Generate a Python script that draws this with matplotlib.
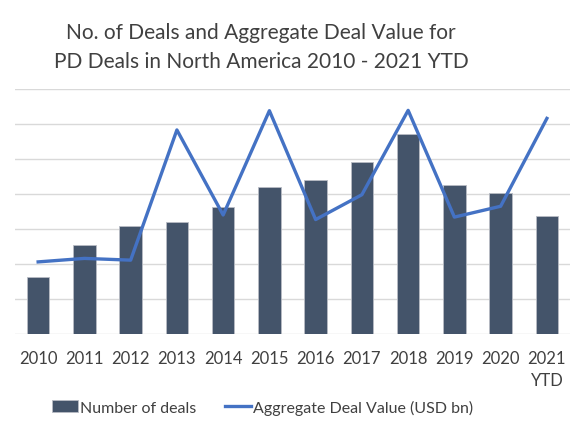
import matplotlib.pyplot as plt
import numpy as np

years = ['2010', '2011', '2012', '2013', '2014', '2015', '2016', '2017',
         '2018', '2019', '2020', '2021\nYTD']
num_deals = [1.64, 2.55, 3.08, 3.19, 3.63, 4.21, 4.41, 4.91, 5.71, 4.25, 4.03, 3.38]
deal_value = [2.06, 2.16, 2.11, 5.83, 3.40, 6.38, 3.27, 3.98, 6.39, 3.34, 3.65, 6.16]

plt.rcParams['font.family'] = ['Lato', 'DejaVu Sans']

fig = plt.figure(figsize=(5.8, 4.35), dpi=100)
ax = fig.add_axes([0.0259, 0.2299, 0.9569, 0.5632])

x = np.arange(len(years))
bars = ax.bar(x, num_deals, width=0.49, color='#44546A', edgecolor='#B8BCC4',
              linewidth=0.6, label='Number of deals', zorder=2)
line, = ax.plot(x, deal_value, color='#4472C4', linewidth=2.4,
                label='Aggregate Deal Value (USD bn)', zorder=3)

ax.set_xlim(-0.5, len(years) - 0.5)
ax.set_ylim(0, 7)
ax.set_yticks(np.arange(0, 8, 1))
ax.yaxis.grid(True, color='#D9D9D9', linewidth=1.0, zorder=0)
ax.set_axisbelow(True)
ax.tick_params(axis='y', left=False, labelleft=False)
ax.tick_params(axis='x', bottom=False, labelsize=12, labelcolor='#404040', pad=8)
ax.set_xticks(x)
ax.set_xticklabels(years, linespacing=1.5)
for s in ax.spines.values():
    s.set_visible(False)

fig.text(0.45, 0.891, 'No. of Deals and Aggregate Deal Value for\nPD Deals in North America 2010 - 2021 YTD',
         ha='center', va='center', fontsize=15, color='#404040', linespacing=1.6)

ax.legend([bars, line], ['Number of deals', 'Aggregate Deal Value (USD bn)'],
          loc='center', bbox_to_anchor=(0.453, 0.062), bbox_transform=fig.transFigure,
          ncol=2, frameon=False, fontsize=11.5, handlelength=1.6, handletextpad=0.15,
          columnspacing=1.8, labelcolor='#404040')

fig.savefig('out.png', dpi=100)
